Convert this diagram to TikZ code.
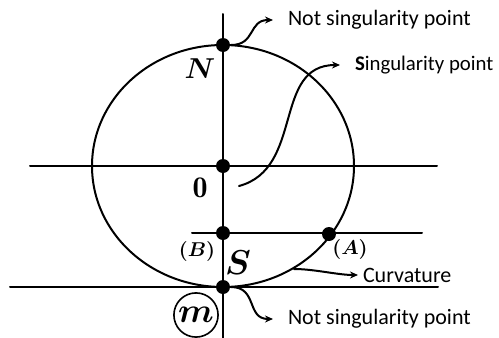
\documentclass[tikz,border=0pt]{standalone}
\usepackage{amsmath,amssymb,bm}
\usepackage{fontspec}
\newfontfamily\labelfont{Carlito}
\usetikzlibrary{arrows.meta}
\begin{document}
\begin{tikzpicture}[x=0.5pt,y=-0.5pt,>={Stealth[length=4pt,width=3.5pt]}, line width=1pt, line join=round, line cap=round]
	\tikzset{dot/.style={circle,fill=black,inner sep=0pt,minimum size=7pt},
		txt/.style={font=\labelfont\fontsize{11}{13}\selectfont,anchor=west,inner sep=0pt},
		lbl/.style={font=\fontsize{15}{17}\selectfont,inner sep=0pt}}
	\def\cx{223} \def\cy{166} \def\rx{131} \def\ry{121}
	\useasboundingbox (0,0) rectangle (499,338);
	% axes and lines
	\draw (\cx,14)--(\cx,338);
	\draw (30,\cy)--(437,\cy);
	\draw (192,233)--(422,233);
	\draw (10,287)--(438,287);
	\draw (\cx,\cy) ellipse [x radius=\rx, y radius=\ry];
	% points
	\foreach \n/\x/\y in {ptN/223/45, ptO/223/166, ptB/223/233, ptA/329/234, ptS/223/287}
	{\node[dot] (\n) at (\x,\y) {};}
	\coordinate (cv) at (294,269);
	\coordinate (sg) at (239,186);
	% labels
	\node[lbl] (labN) at (200,69) {$\bm{N}$};
	\node[lbl] (labO) at (200,188) {$\mathbf{0}$};
	\node[lbl,font=\fontsize{17}{19}\selectfont] (labS) at (238,263) {$\bm{S}$};
	\node[lbl,font=\fontsize{10}{12}\selectfont] (labB) at (197,251) {$\bm{(B)}$};
	\node[lbl,font=\fontsize{10}{12}\selectfont] (labA) at (350,249) {$\bm{(A)}$};
	\node[lbl,font=\fontsize{17}{19}\selectfont,draw,circle,line width=0.8pt,inner sep=1pt,minimum size=18pt] (labm) at (196,315) {$\bm{m}$};
	\node[txt] (t1) at (287,20) {Not singularity point};
	\node[txt,font=\labelfont\fontsize{10.4}{12}\selectfont] (t2) at (354,65) {\textbf{S}ingularity point};
	\node[txt] (t3) at (362,275) {Curvature};
	\node[txt] (t4) at (287,319) {Not singularity point};
	% connectors
	\draw[->] (ptN.east) to[out=0,in=180,looseness=1.3] ([xshift=-7]t1.west);
	\draw[->] (sg) to[out=15,in=180,looseness=1.1] ([xshift=-7]t2.west);
	\draw[->] (cv) to[out=0,in=180,looseness=0.8] ([xshift=-2]t3.west);
	\draw[->] (ptS.east) to[out=0,in=180,looseness=1.3] ([xshift=-7]t4.west);
\end{tikzpicture}
\end{document}
